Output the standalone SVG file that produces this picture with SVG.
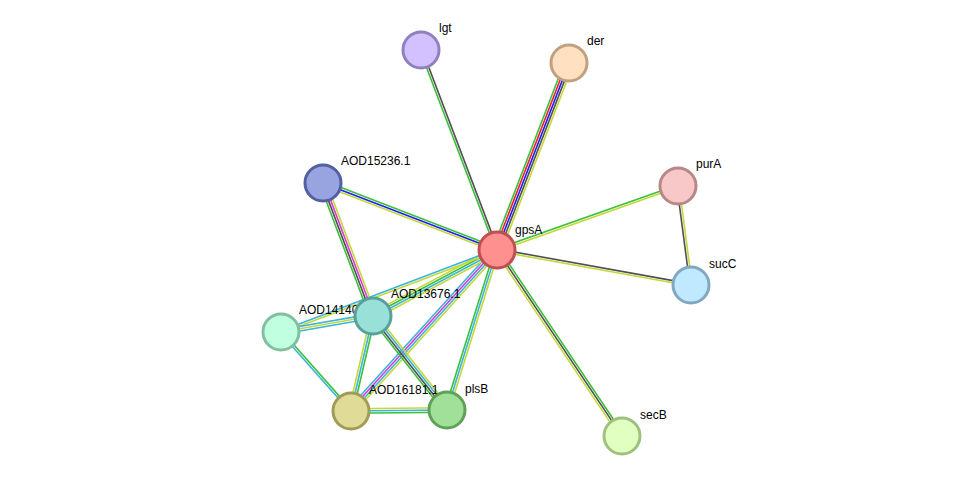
<svg xmlns="http://www.w3.org/2000/svg" width="976" height="482" viewBox="0 0 976 482">
<style>
line{stroke-width:1.6}
.g{stroke:#3cbf3c}.k{stroke:#505050}.r{stroke:#f02020}.b{stroke:#2020f0}.y{stroke:#c4d83a}.c{stroke:#3cb4dc}.m{stroke:#d83cd8}
circle{stroke-width:3}
text{font-family:"Liberation Sans",Arial,sans-serif;font-size:12px;fill:#000}
</style>
<rect width="976" height="482" fill="#fff"/>
<g id="connectors">
<g transform="translate(497,250) rotate(-110.8)"><line x2="214" y1="-1.1" y2="-1.1" class="g"/><line x2="214" y1="1.1" y2="1.1" class="k"/></g>
<g transform="translate(497,250) rotate(-68.94)"><line x2="200" y1="-4.4" y2="-4.4" class="g"/><line x2="200" y1="-2.2" y2="-2.2" class="r"/><line x2="200" class="b"/><line x2="200" y1="2.2" y2="2.2" class="k"/><line x2="200" y1="4.4" y2="4.4" class="y"/></g>
<g transform="translate(497,250) rotate(-158.94)"><line x2="186" y1="-2.2" y2="-2.2" class="y"/><line x2="186" class="b"/><line x2="186" y1="2.2" y2="2.2" class="g"/></g>
<g transform="translate(497,250) rotate(-19.47)"><line x2="192" y1="-1.1" y2="-1.1" class="g"/><line x2="192" y1="1.1" y2="1.1" class="y"/></g>
<g transform="translate(497,250) rotate(10.23)"><line x2="197" y1="-1.1" y2="-1.1" class="k"/><line x2="197" y1="1.1" y2="1.1" class="y"/></g>
<g transform="translate(497,250) rotate(56.1)"><line x2="224" y1="-2.2" y2="-2.2" class="g"/><line x2="224" class="k"/><line x2="224" y1="2.2" y2="2.2" class="y"/></g>
<g transform="translate(497,250) rotate(107.35)"><line x2="168" y1="-2.2" y2="-2.2" class="y"/><line x2="168" class="c"/><line x2="168" y1="2.2" y2="2.2" class="g"/></g>
<g transform="translate(497,250) rotate(132.2)"><line x2="217" y1="-3.3" y2="-3.3" class="y"/><line x2="217" y1="-1.1" y2="-1.1" class="c"/><line x2="217" y1="1.1" y2="1.1" class="m"/><line x2="217" y1="3.3" y2="3.3" class="c"/></g>
<g transform="translate(497,250) rotate(151.98)"><line x2="140" y1="-3.3" y2="-3.3" class="y"/><line x2="140" y1="-1.1" y2="-1.1" class="c"/><line x2="140" y1="1.1" y2="1.1" class="g"/><line x2="140" y1="3.3" y2="3.3" class="y"/></g>
<g transform="translate(497,250) rotate(159.2)"><line x2="231" y1="-1.1" y2="-1.1" class="y"/><line x2="231" y1="1.1" y2="1.1" class="c"/></g>
<g transform="translate(323,183) rotate(69.4)"><line x2="142" y1="-3.3" y2="-3.3" class="y"/><line x2="142" y1="-1.1" y2="-1.1" class="m"/><line x2="142" y1="1.1" y2="1.1" class="k"/><line x2="142" y1="3.3" y2="3.3" class="g"/></g>
<g transform="translate(678,186) rotate(82.5)"><line x2="100" y1="-1.1" y2="-1.1" class="y"/><line x2="100" y1="1.1" y2="1.1" class="k"/></g>
<g transform="translate(281,332) rotate(-9.87)"><line x2="93" y1="-2.2" y2="-2.2" class="c"/><line x2="93" class="y"/><line x2="93" y1="2.2" y2="2.2" class="c"/></g>
<g transform="translate(281,332) rotate(48.45)"><line x2="106" y1="-1.1" y2="-1.1" class="g"/><line x2="106" y1="1.1" y2="1.1" class="c"/></g>
<g transform="translate(373,316) rotate(103.04)"><line x2="97" y1="-2.2" y2="-2.2" class="g"/><line x2="97" class="c"/><line x2="97" y1="2.2" y2="2.2" class="y"/></g>
<g transform="translate(373,316) rotate(51.79)"><line x2="120" y1="-3.3" y2="-3.3" class="y"/><line x2="120" y1="-1.1" y2="-1.1" class="c"/><line x2="120" y1="1.1" y2="1.1" class="k"/><line x2="120" y1="3.3" y2="3.3" class="g"/></g>
<g transform="translate(351,411) rotate(-0.6)"><line x2="96" y1="-2.2" y2="-2.2" class="y"/><line x2="96" class="c"/><line x2="96" y1="2.2" y2="2.2" class="g"/></g>
</g>
<g id="gpsA"><circle cx="497" cy="250" r="18" fill="#ff9090" stroke="#c05050"/><text x="515" y="234">gpsA</text></g>
<g id="lgt"><circle cx="421" cy="50" r="18" fill="#d2c0ff" stroke="#9080c0"/><text x="439" y="32">lgt</text></g>
<g id="der"><circle cx="569" cy="63" r="18" fill="#ffe0c0" stroke="#c0a080"/><text x="587" y="45">der</text></g>
<g id="AOD15236.1"><circle cx="323" cy="183" r="18" fill="#98a4e0" stroke="#5060a0"/><text x="341" y="165">AOD15236.1</text></g>
<g id="purA"><circle cx="678" cy="186" r="18" fill="#f8c8c8" stroke="#b88888"/><text x="696" y="168">purA</text></g>
<g id="sucC"><circle cx="691" cy="285" r="18" fill="#c0e8ff" stroke="#80a8c0"/><text x="709" y="268">sucC</text></g>
<g id="AOD14140"><circle cx="281" cy="332" r="18" fill="#c0ffe0" stroke="#80c0a0"/><text x="299" y="314">AOD14140</text></g>
<g id="AOD13676.1"><circle cx="373" cy="316" r="18" fill="#98e0d8" stroke="#58a098"/><text x="391" y="298">AOD13676.1</text></g>
<g id="AOD16181.1"><circle cx="351" cy="411" r="18" fill="#e0dc98" stroke="#a09c58"/><text x="369" y="394">AOD16181.1</text></g>
<g id="plsB"><circle cx="447" cy="410" r="18" fill="#a0e098" stroke="#60a058"/><text x="465" y="393">plsB</text></g>
<g id="secB"><circle cx="622" cy="436" r="18" fill="#e0ffc0" stroke="#a0c080"/><text x="640" y="419">secB</text></g>
</svg>
